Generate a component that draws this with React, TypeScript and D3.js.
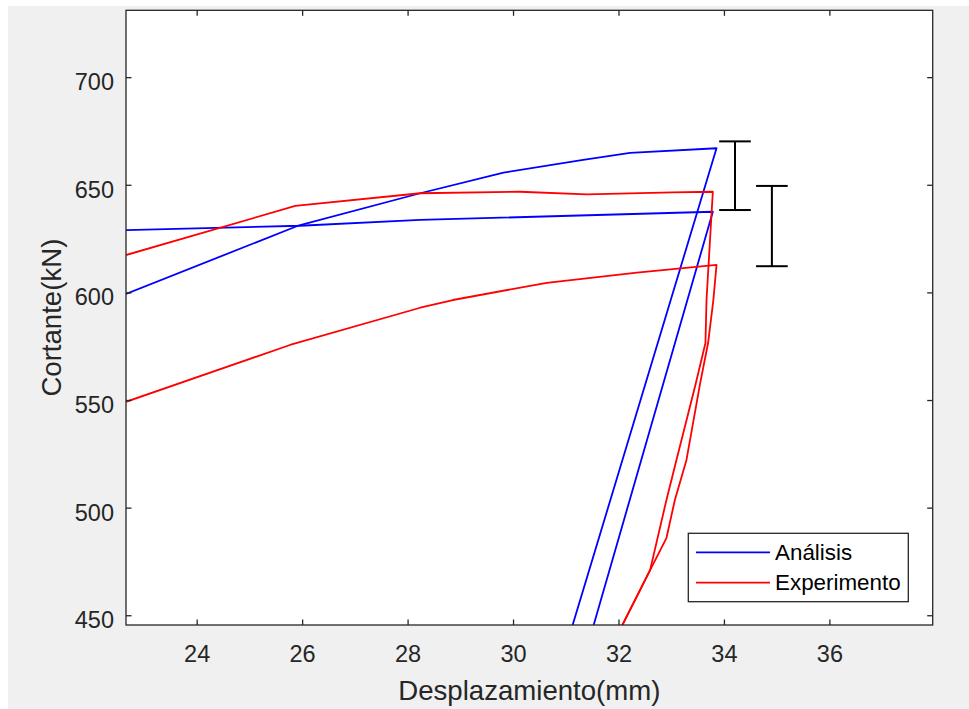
import React from "react";
import * as d3 from "d3";

// Análisis (blue) — two branches
const blueUpperX = [22.65, 25.9, 28.23, 29.81, 31.32, 32.21, 33.85, 31.1];
const blueUpperY = [599.5, 631.1, 646.3, 655.9, 661.8, 665.1, 667.2, 444];
const blueLowerX = [22.65, 25.95, 28.23, 33.78, 31.5];
const blueLowerY = [629.2, 631.2, 633.9, 637.7, 444];

// Experimento (red) — two branches
const redUpperX = [22.65, 25.86, 28.23, 30.12, 31.39, 33.02, 33.78, 33.66, 33.64, 33.44, 33.09, 32.9, 32.59, 32.03];
const redUpperY = [617.6, 640.4, 646.3, 647.0, 645.8, 646.7, 647.0, 596.7, 576.7, 556.3, 522.4, 503.8, 471.2, 444];
const redLowerX = [22.65, 25.76, 28.23, 28.85, 30.63, 32.34, 33.85, 33.79, 33.69, 33.54, 33.28, 33.06, 32.9, 32.59, 32.03];
const redLowerY = [549.4, 575.8, 593.1, 596.7, 604.7, 609.4, 613.0, 596.7, 576.7, 558.1, 522.4, 503.8, 486.1, 471.2, 444];

// error bars
const errX = [34.2, 34.9];
const errLow = [638.5, 612.4];
const errHigh = [670.4, 649.7];

const xTicks = [24, 26, 28, 30, 32, 34, 36];
const yTicks = [450, 500, 550, 600, 650, 700];
const legendLabels = ["Análisis", "Experimento"];
const legendColors = ["#0000ff", "#ff0000"];

export default function App() {
  const W = 969, H = 709;
  const L = 126, R = 932.7, T = 10.3, B = 625;
  const x = d3.scaleLinear().domain([22.65, 37.95]).range([L, R]);
  const y = d3.scaleLinear().domain([445.7, 731.3]).range([B, T]);
  const axisColor = "#262626";
  const font = "'Liberation Sans', Arial, Helvetica, sans-serif";

  const mk = (xs: number[], ys: number[]) =>
    d3.line<number>().x((_, i) => x(xs[i])).y((_, i) => y(ys[i]))(xs);

  const series = [
    { d: mk(blueUpperX, blueUpperY), c: "#0000ff" },
    { d: mk(blueLowerX, blueLowerY), c: "#0000ff" },
    { d: mk(redUpperX, redUpperY), c: "#ff0000" },
    { d: mk(redLowerX, redLowerY), c: "#ff0000" },
  ];

  const capHalf = 0.3;

  return (
    <svg width={W} height={H} style={{ position: "absolute", left: 0, top: 0, background: "#ffffff" }}>
      <rect x={8} y={6} width={W - 8} height={H - 6} fill="#f0f0f0" />
      <defs>
        <clipPath id="plotclip">
          <rect x={L} y={T} width={R - L} height={B - T} />
        </clipPath>
      </defs>
      <rect x={L} y={T} width={R - L} height={B - T} fill="#ffffff" />
      <g clipPath="url(#plotclip)">
        {series.map((s, i) => (
          <path key={i} d={s.d || ""} fill="none" stroke={s.c} strokeWidth={1.8} strokeLinejoin="round" />
        ))}
      </g>
      {errX.map((ex, i) => (
        <g key={"e" + i} stroke="#000" strokeWidth={2} fill="none">
          <line x1={x(ex)} x2={x(ex)} y1={y(errLow[i])} y2={y(errHigh[i])} />
          <line x1={x(ex - capHalf)} x2={x(ex + capHalf)} y1={y(errLow[i])} y2={y(errLow[i])} />
          <line x1={x(ex - capHalf)} x2={x(ex + capHalf)} y1={y(errHigh[i])} y2={y(errHigh[i])} />
        </g>
      ))}
      {/* axes box */}
      <rect x={L} y={T} width={R - L} height={B - T} fill="none" stroke={axisColor} strokeWidth={1.3} />
      {xTicks.map((t) => (
        <g key={"xt" + t}>
          <line x1={x(t)} x2={x(t)} y1={B} y2={B - 5.5} stroke={axisColor} strokeWidth={1.3} />
          <line x1={x(t)} x2={x(t)} y1={T} y2={T + 5.5} stroke={axisColor} strokeWidth={1.3} />
          <text x={x(t)} y={B + 37} textAnchor="middle" fontFamily={font} fontSize={23.5} fill={axisColor}>
            {t}
          </text>
        </g>
      ))}
      {yTicks.map((t) => (
        <g key={"yt" + t}>
          <line x1={L} x2={L + 5.5} y1={y(t)} y2={y(t)} stroke={axisColor} strokeWidth={1.3} />
          <line x1={R} x2={R - 5.5} y1={y(t)} y2={y(t)} stroke={axisColor} strokeWidth={1.3} />
          <text x={114} y={y(t) + 12.5} textAnchor="end" fontFamily={font} fontSize={23.5} fill={axisColor}>
            {t}
          </text>
        </g>
      ))}
      <text x={(L + R) / 2} y={700} textAnchor="middle" fontFamily={font} fontSize={27.6} fill={axisColor}>
        Desplazamiento(mm)
      </text>
      <text
        transform={`translate(61,${(T + B) / 2}) rotate(-90)`}
        textAnchor="middle"
        fontFamily={font}
        fontSize={27.6}
        fill={axisColor}
      >
        Cortante(kN)
      </text>
      {/* legend */}
      <rect x={688.3} y={533.3} width={220} height={68.4} fill="#ffffff" stroke={axisColor} strokeWidth={1.3} />
      {legendLabels.map((lab, i) => (
        <g key={"lg" + i}>
          <line x1={696} x2={770} y1={552.3 + i * 30.4} y2={552.3 + i * 30.4} stroke={legendColors[i]} strokeWidth={1.8} />
          <text x={775} y={560 + i * 30.4} fontFamily={font} fontSize={22.4} fill="#000">
            {lab}
          </text>
        </g>
      ))}
    </svg>
  );
}
